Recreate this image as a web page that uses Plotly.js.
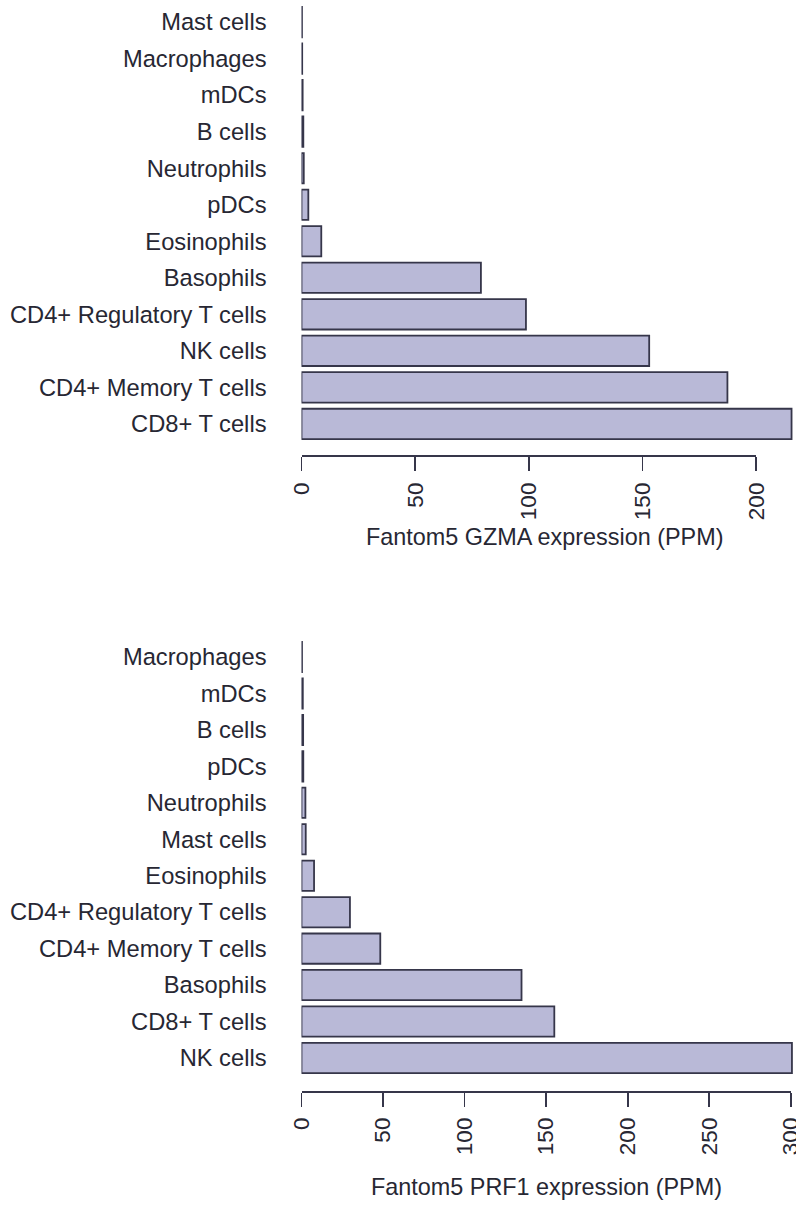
<!DOCTYPE html>
<html>
<head>
<meta charset="utf-8">
<script src="https://cdn.plot.ly/plotly-3.0.1.min.js"></script>
<style>
  html, body { margin: 0; padding: 0; background: #ffffff; }
  #chart { width: 796px; height: 1205px; }
</style>
</head>
<body>
<div id="chart"></div>
<script>
// GZMA expression per cell type (PPM), listed bottom bar first
const gzmaCells = ["CD8+ T cells", "CD4+ Memory T cells", "NK cells", "CD4+ Regulatory T cells",
  "Basophils", "Eosinophils", "pDCs", "Neutrophils", "B cells", "mDCs", "Macrophages", "Mast cells"];
const gzmaPPM = [215.5, 187.3, 152.9, 98.7, 78.9, 8.7, 3.0, 1.0, 0.8, 0.5, 0.3, 0.2];
const gzmaTicks = [0, 50, 100, 150, 200];

// PRF1 expression per cell type (PPM), listed bottom bar first
const prf1Cells = ["NK cells", "CD8+ T cells", "Basophils", "CD4+ Memory T cells",
  "CD4+ Regulatory T cells", "Eosinophils", "Mast cells", "Neutrophils", "pDCs", "B cells", "mDCs", "Macrophages"];
const prf1PPM = [300.7, 155.0, 134.9, 48.3, 29.7, 7.7, 2.6, 2.4, 1.1, 1.0, 0.8, 0.3];
const prf1Ticks = [0, 50, 100, 150, 200, 250, 300];

const gzmaTitle = "Fantom5 GZMA expression (PPM)";
const prf1Title = "Fantom5 PRF1 expression (PPM)";

// page geometry (pixels)
const W = 796, H = 1205;
const zeroPx = 301.5;          // where value 0 sits horizontally
const topScale = 2.274;        // px per PPM, upper panel
const botScale = 1.631;        // px per PPM, lower panel
const FONT = "Liberation Sans, Arial, Helvetica, sans-serif";
const TEXT = "#272733";
const FILL = "#b9b9d7";
const EDGE = "#36364a";

const fy = px => 1 - px / H;   // pixel row -> paper fraction
const fx = px => px / W;

function barTrace(cells, vals, xa, ya) {
  return {
    type: "bar", orientation: "h",
    x: vals, y: cells, xaxis: xa, yaxis: ya,
    width: 0.83,
    marker: { color: FILL, line: { color: EDGE, width: 1.8 } },
    hoverinfo: "x+y", showlegend: false
  };
}
function tickHolder(xa, ya) {
  return { type: "scatter", mode: "markers", x: [], y: [], xaxis: xa, yaxis: ya,
           showlegend: false, hoverinfo: "skip" };
}
function catAxis(cells, domain, anchor) {
  return {
    domain: domain, anchor: anchor,
    type: "category", categoryorder: "array", categoryarray: cells,
    range: [-0.55, cells.length - 0.45],
    showgrid: false, zeroline: false, showline: false, ticks: "",
    ticklabelstandoff: 34,
    tickfont: { family: FONT, size: 23.7, color: TEXT }
  };
}
function valueAxis(scale, anchor) {
  return {
    domain: [fx(zeroPx), 1], anchor: anchor,
    range: [0, (W - zeroPx) / scale],
    visible: false, fixedrange: true
  };
}
function tickAxis(scale, ticks, linePx, standoff) {
  const hi = ticks[ticks.length - 1];
  return {
    domain: [fx(zeroPx), fx(zeroPx + hi * scale)],
    anchor: "free", position: fy(linePx),
    range: [-0.0001, hi + 0.0001],
    tickmode: "array", tickvals: ticks, ticktext: ticks.map(String),
    tickangle: -90, ticklabeloverflow: "allow",
    showline: true, linecolor: EDGE, linewidth: 1.6,
    ticks: "outside", ticklen: 14, tickwidth: 1.6, tickcolor: EDGE,
    ticklabelstandoff: standoff,
    showgrid: false, zeroline: false,
    tickfont: { family: FONT, size: 22.5, color: TEXT }
  };
}

const data = [
  barTrace(gzmaCells, gzmaPPM, "x", "y"),
  tickHolder("x2", "y"),
  barTrace(prf1Cells, prf1PPM, "x3", "y2"),
  tickHolder("x4", "y2")
];

const layout = {
  width: W, height: H,
  margin: { l: 0, r: 0, t: 0, b: 0, pad: 0 },
  paper_bgcolor: "#ffffff", plot_bgcolor: "rgba(0,0,0,0)",
  font: { family: FONT, color: TEXT },
  xaxis: valueAxis(topScale, "y"),
  yaxis: catAxis(gzmaCells, [fy(444), fy(2)], "x"),
  xaxis2: tickAxis(topScale, gzmaTicks, 455, 3),
  xaxis3: valueAxis(botScale, "y2"),
  yaxis2: catAxis(prf1Cells, [fy(1078), fy(637)], "x3"),
  xaxis4: tickAxis(botScale, prf1Ticks, 1091, 2),
  annotations: [
    { text: gzmaTitle, xref: "paper", yref: "paper", x: fx(544.5), y: fy(537),
      xanchor: "center", yanchor: "middle", showarrow: false,
      font: { family: FONT, size: 23.4, color: TEXT } },
    { text: prf1Title, xref: "paper", yref: "paper", x: fx(546.5), y: fy(1187),
      xanchor: "center", yanchor: "middle", showarrow: false,
      font: { family: FONT, size: 23.4, color: TEXT } }
  ]
};

Plotly.newPlot("chart", data, layout, { staticPlot: true, displayModeBar: false });
</script>
</body>
</html>
